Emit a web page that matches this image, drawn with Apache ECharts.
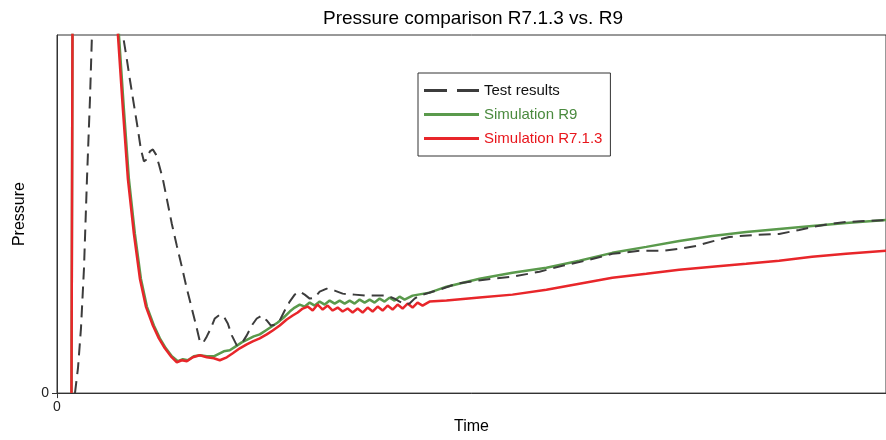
<!DOCTYPE html>
<html>
<head>
<meta charset="utf-8">
<script src="https://cdn.jsdelivr.net/npm/echarts@6/dist/echarts.min.js"></script>
<style>html,body{margin:0;padding:0;background:#fff}#c{width:886px;height:440px}</style>
</head>
<body>
<div id="c"></div>
<script>
var titleText = 'Pressure comparison R7.1.3 vs. R9';
var seriesNames = ['Test results', 'Simulation R9', 'Simulation R7.1.3'];
var xTickValues = [0];
var yTickValues = [0];

// [time, pressure] in arbitrary units
var testResults = [
[18,0],[21,25],[24,65],[27,125],[30,215],[33,295],[35,360],[36,545],[64,545],[66,360],[70,335],[73,315],[77,290],[81,265],[84,245],[87,233],[90,235],[93,243],[96,245],[99,240],[102,230],[106,215],[110,195],[115,170],[120,148],[125,127],[130,105],[135,85],[140,65],[143,52],[146,50],[150,57],[154,65],[158,75],[163,79],[167,77],[171,70],[175,58],[180,48],[185,50],[190,58],[195,68],[200,75],[205,78],[210,73],[214,68],[219,69],[223,73],[228,83],[233,92],[238,99],[243,102],[248,99],[253,95],[258,96],[263,102],[270,105],[278,103],[286,100],[298,99],[310,98],[330,98],[338,95],[343,92],[348,89],[353,90],[358,95],[363,98],[383,104],[400,110],[428,114],[456,117],[483,122],[506,128],[533,134],[556,140],[583,143],[606,143],[623,145],[640,148],[658,153],[673,157],[698,159],[723,160],[743,164],[756,167],[773,170],[790,172],[830,174]
];
var simR9 = [
[14.5,0],[16,545],[58,545],[62,360],[67,285],[72,215],[78,160],[84,115],[90,87],[97,68],[103,55],[109,45],[115,37],[121,32],[126,34],[131,33],[137,37],[143,38],[150,37],[157,37],[161,39],[167,42],[173,43],[179,47],[185,51],[191,54],[197,57],[203,59],[209,63],[215,67],[221,71],[227,76],[233,82],[238,86],[243,89],[248,87],[253,91],[258,88],[263,92],[268,89],[273,93],[278,90],[283,93],[288,90],[293,93],[298,90],[303,94],[308,91],[313,94],[318,91],[323,95],[328,92],[333,96],[338,93],[343,97],[348,94],[356,98],[373,101],[390,107],[423,115],[456,121],[490,126],[523,133],[556,141],[590,147],[623,153],[656,158],[690,162],[723,165],[756,168],[790,171],[830,174]
];
var simR713 = [
[14.5,0],[16,545],[58,545],[61,360],[66,285],[71,215],[77,160],[83,115],[89,87],[96,68],[102,55],[108,45],[114,37],[120,31],[125,33],[130,32],[136,36],[143,38],[150,36],[157,35],[163,33],[170,36],[176,40],[183,45],[190,49],[196,52],[203,55],[210,59],[216,63],[223,68],[230,74],[236,78],[241,81],[246,85],[251,87],[256,83],[261,89],[266,84],[271,88],[276,83],[281,86],[286,82],[291,85],[296,81],[301,85],[306,81],[311,86],[316,82],[321,87],[326,83],[331,88],[336,84],[341,89],[346,85],[351,90],[356,86],[361,91],[366,88],[373,92],[390,93],[423,96],[456,99],[490,104],[523,110],[556,116],[590,120],[623,124],[656,127],[690,130],[723,133],[756,137],[790,140],[830,143]
];

var colors = ['#3c3c3c', '#5a9a4c', '#e8262a'];
var textColors = ['#111111', '#4a8a3e', '#e8161c'];

var chart = echarts.init(document.getElementById('c'), null, {renderer: 'canvas'});
var font = 'Liberation Sans, Arial, sans-serif';
chart.setOption({
  animation: false,
  backgroundColor: '#fff',
  title: {
    text: titleText, left: 468, top: 4, textAlign: 'center',
    textStyle: {fontFamily: font, fontSize: 19, fontWeight: 'normal', color: '#000'}
  },
  grid: {left: 57, top: 35, right: -1, bottom: 45, show: true, borderColor: '#333', borderWidth: 1, backgroundColor: 'transparent'},
  legend: {
    orient: 'vertical', left: 418, top: 73,
    padding: [10, 8, 10, 6],
    itemWidth: 55, itemHeight: 3, itemGap: 9,
    borderColor: '#333', borderWidth: 1, backgroundColor: '#fff',
    textStyle: {fontFamily: font, fontSize: 15, lineHeight: 15},
    data: [
      {name: seriesNames[0], icon: 'path://M0,0h23v3h-23zM33,0h22v3h-22z', textStyle: {color: textColors[0]}},
      {name: seriesNames[1], icon: 'rect', textStyle: {color: textColors[1]}},
      {name: seriesNames[2], icon: 'rect', textStyle: {color: textColors[2]}}
    ]
  },
  xAxis: {
    type: 'value', min: 0, max: 830,
    name: 'Time', nameLocation: 'middle', nameGap: 24,
    nameTextStyle: {fontFamily: font, fontSize: 16, color: '#000'},
    axisLine: {show: true, lineStyle: {color: '#333', width: 1}},
    axisTick: {show: true, length: 5, customValues: xTickValues, lineStyle: {color: '#333'}},
    axisLabel: {customValues: xTickValues, margin: 7, fontFamily: font, fontSize: 14, color: '#222'},
    splitLine: {show: false}
  },
  yAxis: {
    type: 'value', min: 0, max: 360,
    name: 'Pressure', nameLocation: 'middle', nameGap: 29,
    nameTextStyle: {fontFamily: font, fontSize: 16, color: '#000'},
    axisLine: {show: true, lineStyle: {color: '#333', width: 1}},
    axisTick: {show: true, length: 5, customValues: yTickValues, lineStyle: {color: '#333'}},
    axisLabel: {customValues: yTickValues, margin: 8, fontFamily: font, fontSize: 14, color: '#222'},
    splitLine: {show: false}
  },
  series: [
    {name: seriesNames[0], type: 'line', data: testResults, symbol: 'none', clip: true,
     lineStyle: {color: colors[0], width: 2, type: [12, 7]}, itemStyle: {color: colors[0]}, z: 3},
    {name: seriesNames[1], type: 'line', data: simR9, symbol: 'none', clip: true,
     lineStyle: {color: colors[1], width: 2.5}, itemStyle: {color: colors[1]}, z: 2},
    {name: seriesNames[2], type: 'line', data: simR713, symbol: 'none', clip: true,
     lineStyle: {color: colors[2], width: 2.5}, itemStyle: {color: colors[2]}, z: 2}
  ]
});
</script>
</body>
</html>
